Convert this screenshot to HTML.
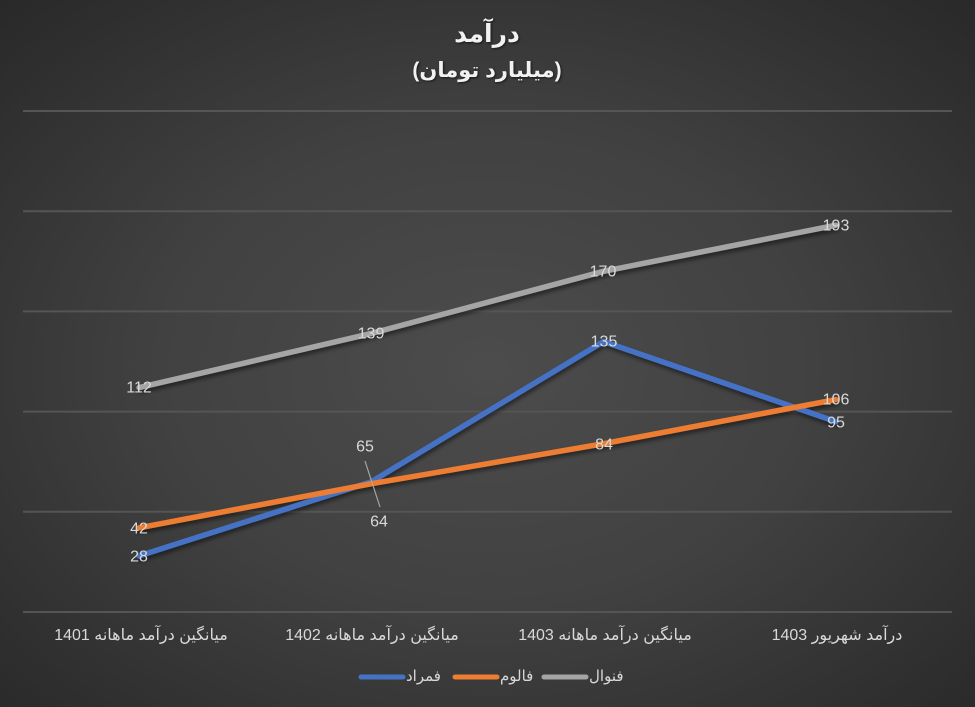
<!DOCTYPE html>
<html><head><meta charset="utf-8">
<style>
html,body{margin:0;padding:0;}
body{width:975px;height:707px;overflow:hidden;position:relative;
background:radial-gradient(ellipse 75% 75% at 50% 52%, #4c4c4c 0%, #414141 45%, #303030 80%, #272727 100%);
font-family:"Liberation Sans","DejaVu Sans",sans-serif;}
.t{position:absolute;white-space:nowrap;direction:rtl;text-align:center;transform:translateX(-50%);}
.title{color:#f2f2f2;font-weight:bold;text-shadow:1px 1px 2px rgba(0,0,0,0.6);}
.cat{color:#d9d9d9;font-size:16px;top:625px;}
.leg{color:#d9d9d9;font-size:15px;top:667px;position:absolute;white-space:nowrap;direction:rtl;}
svg{position:absolute;left:0;top:0;}
</style></head><body>
<svg width="975" height="707" viewBox="0 0 975 707">
<defs>
<filter id="sh" x="-10%" y="-10%" width="120%" height="130%">
<feGaussianBlur in="SourceAlpha" stdDeviation="2"/>
<feOffset dx="1" dy="3" result="b"/>
<feComponentTransfer><feFuncA type="linear" slope="0.5"/></feComponentTransfer>
<feMerge><feMergeNode/><feMergeNode in="SourceGraphic"/></feMerge>
</filter>
</defs>
<g stroke="#555555" stroke-width="2">
<line x1="23" y1="111" x2="952" y2="111"/>
<line x1="23" y1="211.2" x2="952" y2="211.2"/>
<line x1="23" y1="311.4" x2="952" y2="311.4"/>
<line x1="23" y1="411.6" x2="952" y2="411.6"/>
<line x1="23" y1="511.8" x2="952" y2="511.8"/>
<line x1="23" y1="612" x2="952" y2="612"/>
</g>
<g fill="none" stroke-width="5.5" stroke-linejoin="round" stroke-linecap="round" filter="url(#sh)">
<polyline stroke="#A5A5A5" points="139.1,387.6 371.4,333.4 603.6,271.3 835.9,225.2"/>
<polyline stroke="#4472C4" points="139.1,555.9 371.4,481.7 603.6,341.5 835.9,421.6"/>
<polyline stroke="#ED7D31" points="139.1,527.8 371.4,483.7 603.6,443.7 835.9,399.6"/>
</g>
<line x1="365" y1="461" x2="380" y2="507" stroke="#a6a6a6" stroke-width="1.2"/>
<g fill="#d9d9d9" font-family="Liberation Sans, DejaVu Sans, sans-serif" font-size="16" text-anchor="middle" dominant-baseline="central">
<text x="139" y="388">112</text>
<text x="371" y="334">139</text>
<text x="603" y="272">170</text>
<text x="836" y="226">193</text>
<text x="604" y="342">135</text>
<text x="836" y="423">95</text>
<text x="604" y="445">84</text>
<text x="836" y="400">106</text>
<text x="139" y="529">42</text>
<text x="139" y="557">28</text>
<text x="365" y="447">65</text>
<text x="379" y="522">64</text>
</g>
<g stroke-width="5" stroke-linecap="round">
<line x1="361" y1="677" x2="403" y2="677" stroke="#4472C4"/>
<line x1="455" y1="677" x2="497" y2="677" stroke="#ED7D31"/>
<line x1="544" y1="677" x2="586" y2="677" stroke="#A5A5A5"/>
</g>
</svg>
<div class="t title" style="left:487px;top:19px;font-size:25px;">درآمد</div>
<div class="t title" style="left:487px;top:58px;font-size:21px;">(میلیارد تومان)</div>
<div class="t cat" style="left:141px;">میانگین درآمد ماهانه 1401</div>
<div class="t cat" style="left:372px;">میانگین درآمد ماهانه 1402</div>
<div class="t cat" style="left:605px;">میانگین درآمد ماهانه 1403</div>
<div class="t cat" style="left:837px;">درآمد شهریور 1403</div>
<div class="leg" style="left:406px;">فمراد</div>
<div class="leg" style="left:500px;">فالوم</div>
<div class="leg" style="left:589px;">فنوال</div>
</body></html>
